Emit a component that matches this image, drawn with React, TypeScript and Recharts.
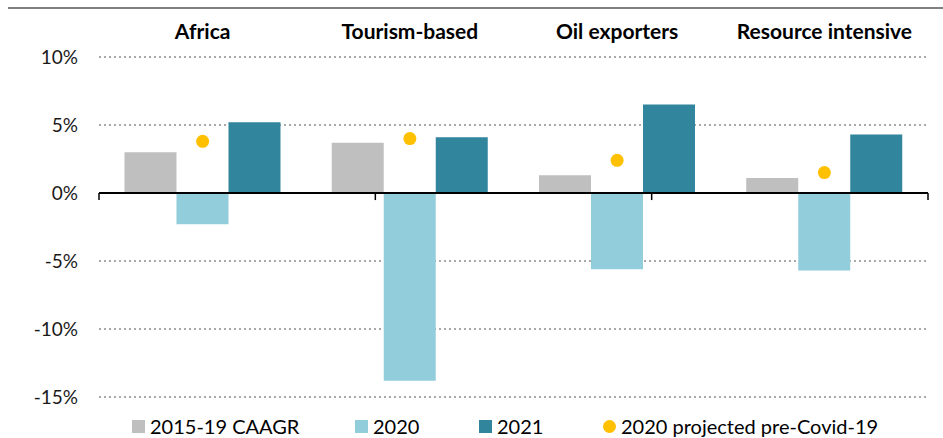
import React from 'react';
import { ComposedChart, Bar, Line, XAxis, YAxis, CartesianGrid, ReferenceLine, Legend } from 'recharts';

const regions = ['Africa', 'Tourism-based', 'Oil exporters', 'Resource intensive'];
const caagr = [3.0, 3.7, 1.3, 1.1];
const growth2020 = [-2.3, -13.8, -5.6, -5.7];
const growth2021 = [5.2, 4.1, 6.5, 4.3];
const projected = [3.8, 4.0, 2.4, 1.5];
const yTicks = [-15, -10, -5, 0, 5, 10];
const boundaries = [0, 1, 2, 3, 4];

const legendItems = [
  { label: '2015-19 CAAGR', color: '#BFBFBF', round: false },
  { label: '2020', color: '#92CDDC', round: false },
  { label: '2021', color: '#31859C', round: false },
  { label: '2020 projected pre-Covid-19', color: '#FFC000', round: true },
];
// left edge of each legend marker, in px
const legendX = [132, 355, 479, 603];

const data = regions.map((name, i) => ({
  name,
  caagr: caagr[i],
  g2020: growth2020[i],
  g2021: growth2021[i],
  projected: projected[i],
}));

const FONT = 'Lato, "Open Sans", sans-serif';

const TopTick = (props: any) => {
  const { x, payload } = props;
  return (
    <text x={x} y={32} dy="0.35em" textAnchor="middle" fontFamily={FONT} fontWeight={700} fontSize={21} fill="#000">
      {payload.value}
    </text>
  );
};

const LegendContent = () => (
  <div style={{ position: 'relative', height: 26, fontFamily: FONT, fontSize: 20, color: '#000' }}>
    {legendItems.map((p, i) => (
      <div key={p.label} style={{ position: 'absolute', left: legendX[i], top: 0, display: 'flex', alignItems: 'center', whiteSpace: 'nowrap' }}>
        <span
          style={{
            display: 'inline-block',
            width: 13,
            height: 13,
            background: p.color,
            borderRadius: p.round ? '50%' : 0,
            marginRight: 5,
          }}
        />
        <span>{p.label}</span>
      </div>
    ))}
  </div>
);

export default function App() {
  return (
    <div style={{ position: 'absolute', left: 0, top: 0, width: 943, height: 438, background: '#fff' }}>
      <div style={{ position: 'absolute', left: 8, top: 7, width: 935, height: 2, background: '#7f7f7f' }} />
      <ComposedChart
        width={943}
        height={438}
        data={data}
        margin={{ top: 17, right: 15, bottom: 41, left: 0 }}
        barCategoryGap="12.3%"
        barGap={0}
      >
        <CartesianGrid vertical={false} stroke="#8c8c8c" strokeDasharray="2 3" strokeWidth={1.3} />
        <XAxis dataKey="name" orientation="top" height={40} axisLine={false} tickLine={false} tick={<TopTick />} />
        <XAxis xAxisId="b" type="number" domain={[0, 4]} hide />
        <YAxis
          domain={[-15, 10]}
          ticks={yTicks}
          width={99}
          axisLine={false}
          tickLine={false}
          tickSize={0}
          tickMargin={21}
          tickFormatter={(v: number) => `${v}%`}
          tick={{ fontFamily: FONT, fontSize: 19, fill: '#1a1a1a' }}
        />
        <Bar dataKey="caagr" name="2015-19 CAAGR" fill="#BFBFBF" isAnimationActive={false} />
        <Bar dataKey="g2020" name="2020" fill="#92CDDC" isAnimationActive={false} />
        <Bar dataKey="g2021" name="2021" fill="#31859C" isAnimationActive={false} />
        <Line
          dataKey="projected"
          name="2020 projected pre-Covid-19"
          stroke="none"
          legendType="circle"
          dot={{ r: 6.5, fill: '#FFC000', stroke: 'none' }}
          activeDot={false}
          isAnimationActive={false}
        />
        <ReferenceLine y={0} stroke="#000" strokeWidth={2} />
        {boundaries.map((b) => (
          <ReferenceLine
            key={b}
            xAxisId="b"
            segment={[{ x: b, y: 0 }, { x: b, y: -0.52 }]}
            stroke="#000"
            strokeWidth={1.5}
          />
        ))}
        <Legend
          verticalAlign="middle"
          align="center"
          wrapperStyle={{ top: 414, left: 0, width: 943 }}
          content={<LegendContent />}
        />
      </ComposedChart>
    </div>
  );
}
